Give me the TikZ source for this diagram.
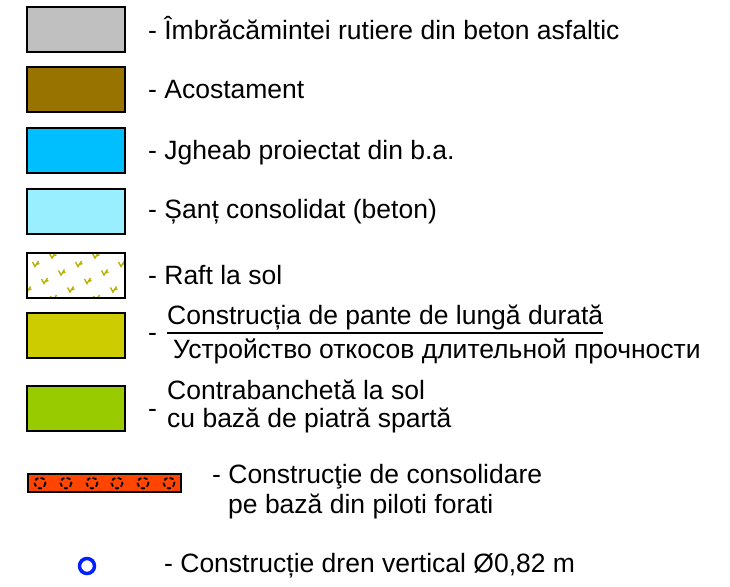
\documentclass[tikz,border=0pt]{standalone}
\usepackage{fontspec}
\setmainfont{Liberation Sans}
\usepackage{tikz}
\usepackage{xcolor}

\definecolor{asfalt}{HTML}{C0C0C0}
\definecolor{acost}{HTML}{997300}
\definecolor{jgheab}{HTML}{00BFFF}
\definecolor{sant}{HTML}{99EEFF}
\definecolor{iarba}{HTML}{B8B000}
\definecolor{pante}{HTML}{CCCC00}
\definecolor{contra}{HTML}{99CC00}
\definecolor{piloti}{HTML}{FF4500}
\definecolor{dren}{HTML}{0020FF}

\begin{document}
\begin{tikzpicture}[x=1pt,y=-1pt,
  swatch/.style={draw=black,line width=1.5pt},
  legtext/.style={anchor=base west,inner sep=0pt,font=\fontsize{26.5}{30}\selectfont}]
\useasboundingbox (0,0) rectangle (730,586);

% culori
\draw [swatch,fill=asfalt] (27,7) rectangle (125,52);
\draw [swatch,fill=acost] (27,67) rectangle (125,112);
\draw [swatch,fill=jgheab] (27,128) rectangle (125,173);
\draw [swatch,fill=sant] (27,189) rectangle (125,234);
\begin{scope}
\clip (27,253) rectangle (125,298);
\foreach \x/\y in {53/256,96/256,36/264.5,79/264.5,122/264.5,19/273,62/273,105/273,
  45/281.5,88/281.5,28/290,71/290,114/290,54/298.5,97/298.5}
  \draw [iarba,line width=1.4pt] (\x-3.5,\y-2.5) -- (\x-1,\y+2) -- (\x+2.5,\y-3.5)
    (\x,\y) -- (\x+3.5,\y-1);
\end{scope}
\draw [swatch] (27,253) rectangle (125,298);
\draw [swatch,fill=pante] (27,313) rectangle (125,358);
\draw [swatch,fill=contra] (27,386) rectangle (125,431);
\draw [swatch,line width=2pt,fill=piloti] (28,474) rectangle (181,492);
\foreach \x in {40,66,92,117,143,169}
  \draw [line width=1.8pt,dash pattern=on 4pt off 2.5pt] (\x,483) circle[radius=5.5];
\draw [dren,line width=3.5pt] (87,566) circle[radius=7.5];

% texte
\node [legtext] (asfalt) at (148,40) {- Îmbrăcămintei rutiere din beton asfaltic};
\node [legtext] (acost) at (148,98) {- Acostament};
\node [legtext] (jgheab) at (148,159) {- Jgheab proiectat din b.a.};
\node [legtext] (sant) at (148,218) {- Șanț consolidat (beton)};
\node [legtext] (raft) at (148,284) {- Raft la sol};
\node [legtext] (pante0) at (148,341) {-};
\node [legtext] (pante) at (167,324) {Construcția de pante de lungă durată};
\draw [line width=1.4pt] ([yshift=-3pt]pante.south west) -- ([yshift=-3pt]pante.south east);
\node [legtext] (panteru) at (173,358) {Устройство откосов длительной прочности};
\node [legtext] (contra0) at (148,417) {-};
\node [legtext] (contra) at (167,399) {Contrabanchetă la sol};
\node [legtext] (contra2) at (167,427) {cu bază de piatră spartă};
\node [legtext] (piloti) at (212,483) {- Construcţie de consolidare};
\node [legtext] (piloti2) at (228,513) {pe bază din piloti forati};
\node [legtext] (dren) at (164,572) {- Construcție dren vertical Ø0,82 m};
\end{tikzpicture}
\end{document}
